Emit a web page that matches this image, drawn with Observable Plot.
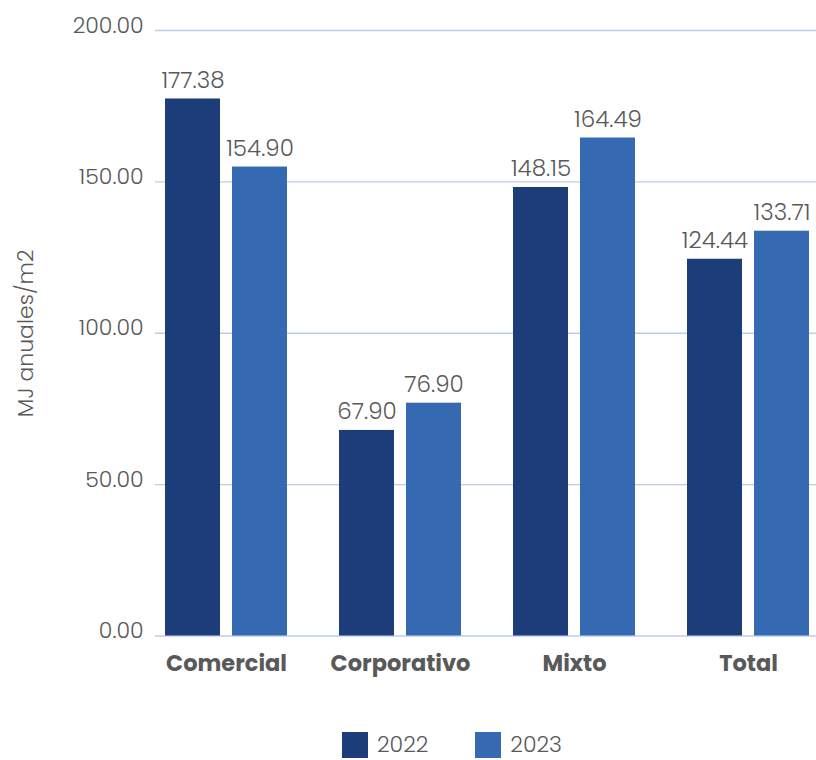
<!DOCTYPE html>
<html>
<head>
<meta charset="utf-8">
<script src="https://cdn.jsdelivr.net/npm/d3@7"></script>
<script src="https://cdn.jsdelivr.net/npm/@observablehq/plot@0.6"></script>
<style>
  body { margin: 0; background: #fff; font-family: "Poppins", Lato, "Open Sans", sans-serif; }
  #wrap { position: relative; width: 816px; height: 760px; overflow: hidden; }
  #legend { position: absolute; left: 342px; top: 732px; display: flex; align-items: center; font-size: 22px; line-height: 24px; color: #595959; font-weight: 300; }
  .sw { width: 26px; height: 26px; display: inline-block; margin-right: 9px; }
  .item { display: flex; align-items: center; margin-right: 47px; height: 26px; }
</style>
</head>
<body>
<div id="wrap">
  <div id="chart"></div>
  <div id="legend"></div>
</div>
<script>
const categories = ["Comercial", "Corporativo", "Mixto", "Total"];
const years = ["2022", "2023"];
const values2022 = [177.38, 67.90, 148.15, 124.44];
const values2023 = [154.90, 76.90, 164.49, 133.71];
const yTicks = [0, 50, 100, 150, 200];
const colors = ["#1d3c7a", "#356ab2"];
const yLabel = "MJ anuales/m2";

const d22 = categories.map((c, i) => ({category: c, year: "2022", value: values2022[i]}));
const d23 = categories.map((c, i) => ({category: c, year: "2023", value: values2023[i]}));

const textColor = "#595959";
const font = "Poppins, Lato, 'Open Sans', sans-serif";

const chart = Plot.plot({
  width: 816,
  height: 700,
  marginTop: 30,
  marginBottom: 64.5,
  marginLeft: 155,
  marginRight: 0,
  style: {fontFamily: font, color: textColor, background: "#fff"},
  x: {domain: categories, range: [137, 836.5], padding: 0, label: null},
  y: {domain: [0, 200], label: null},
  marks: [
    Plot.ruleY(yTicks, {stroke: "#bccde9", strokeWidth: 1.3}),
    Plot.barY(d22, {x: "category", y: "value", fill: () => colors[0], insetLeft: 26, insetRight: 93}),
    Plot.barY(d23, {x: "category", y: "value", fill: () => colors[1], insetLeft: 93, insetRight: 26}),
    Plot.text(d22, {x: "category", y: "value", text: d => d.value.toFixed(2), dx: -33.5, dy: -11, lineAnchor: "bottom", fontSize: 23, fill: textColor, fontWeight: 300}),
    Plot.text(d23, {x: "category", y: "value", text: d => d.value.toFixed(2), dx: 33.5, dy: -11, lineAnchor: "bottom", fontSize: 23, fill: textColor, fontWeight: 300}),
    Plot.axisY(yTicks, {tickSize: 0, tickPadding: 12, tickFormat: d => d.toFixed(2), fontSize: 22, fill: textColor, fontWeight: 300, dy: -5, label: null}),
    Plot.axisX({tickSize: 0, tickPadding: 19, fontSize: 22.5, fontWeight: "bold", fill: textColor, label: null}),
    Plot.text([yLabel], {frameAnchor: "left", text: d => d, rotate: -90, textAnchor: "middle", dx: -130, fontSize: 22, fill: textColor, fontWeight: 300})
  ]
});
document.getElementById("chart").appendChild(chart);

const legend = document.getElementById("legend");
years.forEach((y, i) => {
  const item = document.createElement("div");
  item.className = "item";
  const sw = document.createElement("span");
  sw.className = "sw";
  sw.style.background = colors[i];
  const t = document.createElement("span");
  t.textContent = y;
  item.appendChild(sw);
  item.appendChild(t);
  legend.appendChild(item);
});
</script>
</body>
</html>
